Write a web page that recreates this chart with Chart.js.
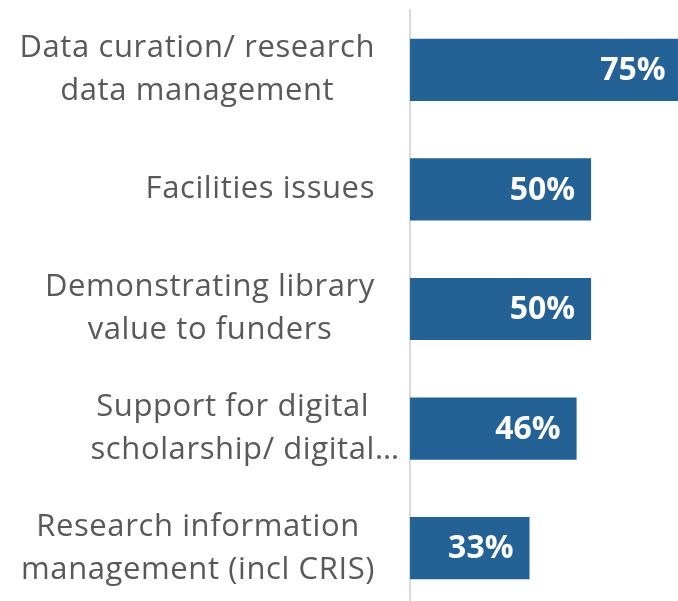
<!DOCTYPE html>
<html>
<head>
<meta charset="utf-8">
<script src="https://cdn.jsdelivr.net/npm/chart.js@4/dist/chart.umd.min.js"></script>
<style>
  html, body { margin: 0; padding: 0; overflow: hidden; background: #fff; }
  #wrap { width: 678px; height: 601px; overflow: hidden; }
</style>
</head>
<body>
<div id="wrap"><canvas id="chart" width="678" height="608"></canvas></div>
<script>
// categories (two-line labels), top to bottom
const categories = [
  ['Data curation/ research', 'data management'],
  ['Facilities issues'],
  ['Demonstrating library', 'value to funders'],
  ['Support for digital', 'scholarship/ digital…'],
  ['Research information', 'management (incl CRIS)']
];
const percentages = [75, 50, 50, 46, 33];

const barColor = '#246194';
const labelColor = '#595959';
const labelFont = '31px "Open Sans"';
const valueFont = 'bold 32px "Open Sans"';

// category labels: blocks right-aligned to the axis, lines centred inside a block
const categoryLabels = {
  id: 'categoryLabels',
  afterDraw(chart) {
    const ctx = chart.ctx;
    const y = chart.scales.y;
    const right = y.right - 35;
    const lineH = 43;
    ctx.save();
    ctx.font = labelFont;
    ctx.letterSpacing = '0.6px';
    ctx.fillStyle = labelColor;
    ctx.textBaseline = 'middle';
    ctx.textAlign = 'left';
    chart.data.labels.forEach((lines, i) => {
      const cy = y.getPixelForTick(i);
      const widths = lines.map(l => ctx.measureText(l.replace(/…$/, '')).width);
      const maxW = Math.max(...widths);
      lines.forEach((l, j) => {
        const ly = cy + (j - (lines.length - 1) / 2) * lineH;
        const x = right - maxW / 2 - widths[j] / 2;
        ctx.fillText(l, x, ly);
      });
    });
    ctx.restore();
  }
};

// value labels inside the end of each bar
const valueLabels = {
  id: 'valueLabels',
  afterDatasetsDraw(chart) {
    const ctx = chart.ctx;
    const meta = chart.getDatasetMeta(0);
    ctx.save();
    ctx.font = valueFont;
    ctx.fillStyle = '#ffffff';
    ctx.textAlign = 'right';
    ctx.textBaseline = 'middle';
    meta.data.forEach((bar, i) => {
      ctx.fillText(percentages[i] + '%', bar.x - 16, bar.y + 1);
    });
    ctx.restore();
  }
};

new Chart(document.getElementById('chart'), {
  type: 'bar',
  data: {
    labels: categories,
    datasets: [{
      data: percentages,
      backgroundColor: barColor,
      borderWidth: 0,
      categoryPercentage: 1,
      barPercentage: 0.52
    }]
  },
  options: {
    indexAxis: 'y',
    responsive: false,
    animation: false,
    layout: { padding: { top: 10, right: 0, bottom: 0, left: 0 } },
    plugins: { legend: { display: false }, tooltip: { enabled: false } },
    scales: {
      x: {
        min: 0,
        max: 74,
        display: false
      },
      y: {
        grid: { display: false },
        border: { color: '#d9d9d9', width: 2 },
        ticks: { display: false },
        afterFit(scale) { scale.width = 410; }
      }
    }
  },
  plugins: [categoryLabels, valueLabels]
});
</script>
</body>
</html>
